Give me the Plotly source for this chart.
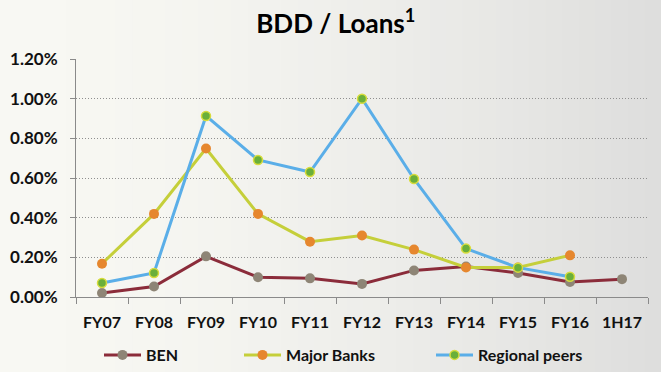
import plotly.graph_objects as go

categories = ["FY07", "FY08", "FY09", "FY10", "FY11", "FY12", "FY13", "FY14", "FY15", "FY16", "1H17"]
ben = [0.020, 0.053, 0.205, 0.100, 0.094, 0.066, 0.134, 0.154, 0.121, 0.076, 0.090]
major_banks = [0.168, 0.419, 0.749, 0.419, 0.279, 0.310, 0.239, 0.149, 0.149, 0.210, None]
regional_peers = [0.071, 0.121, 0.913, 0.691, 0.630, 1.000, 0.595, 0.244, 0.148, 0.102, None]
y_ticks = [0.0, 0.2, 0.4, 0.6, 0.8, 1.0, 1.2]
y_tick_labels = ["0.00%", "0.20%", "0.40%", "0.60%", "0.80%", "1.00%", "1.20%"]

FONT = "Lato, 'Open Sans', sans-serif"
W, H = 661, 372
ML, MR, MT, MB = 76, 13, 59, 75
PW, PH = W - ML - MR, H - MT - MB

fig = go.Figure()
fig.add_trace(go.Scatter(
    x=categories, y=ben, name="BEN", mode="lines+markers", legend="legend",
    line=dict(color="#8B2C3A", width=3),
    marker=dict(color="#8E8576", size=10, line=dict(width=0)),
))
fig.add_trace(go.Scatter(
    x=categories, y=major_banks, name="Major Banks", mode="lines+markers", legend="legend2",
    line=dict(color="#C5CF3A", width=3),
    marker=dict(color="#E6872E", size=10, line=dict(width=0)),
))
fig.add_trace(go.Scatter(
    x=categories, y=regional_peers, name="Regional peers", mode="lines+markers", legend="legend3",
    line=dict(color="#5AAEE8", width=3),
    marker=dict(color="#6AAF3A", size=9, line=dict(color="#D8DC3C", width=1.5)),
))

# background gradient (cream on the left to light grey on the right)
shapes = []
n = 40
c0 = (248, 248, 243)
c1 = (222, 222, 221)
x_left = -ML / PW
x_right = 1 + MR / PW
for i in range(n):
    t = i / (n - 1)
    t2 = t ** 1.6
    col = tuple(round(c0[k] + (c1[k] - c0[k]) * t2) for k in range(3))
    xa = x_left + (x_right - x_left) * i / n
    xb = x_left + (x_right - x_left) * (i + 1) / n + 0.002
    shapes.append(dict(type="rect", xref="paper", yref="paper", x0=xa, x1=xb,
                       y0=-MB / PH - 0.01, y1=1 + MT / PH + 0.01, layer="below",
                       line=dict(width=0), fillcolor="rgb(%d,%d,%d)" % col))

legend_y = -(355 - (H - MB)) / PH
legend_common = dict(orientation="h", yanchor="middle", y=legend_y,
                     xanchor="left", itemwidth=37, bgcolor="rgba(0,0,0,0)",
                     font=dict(family=FONT, size=16, color="#111111", weight="bold"))

def lx(px):
    return (px - ML) / PW

fig.update_layout(
    width=W, height=H,
    margin=dict(l=ML, r=MR, t=MT, b=MB, autoexpand=False),
    paper_bgcolor="#F2F2ED",
    plot_bgcolor="rgba(0,0,0,0)",
    shapes=shapes,
    font=dict(family=FONT, size=16, color="#111111", weight="bold"),
    title=dict(text="BDD / Loans<sup>1</sup>", x=0.508, xanchor="center", y=0.935, yanchor="middle",
               font=dict(family=FONT, size=26, color="#000000", weight="bold")),
    showlegend=True,
    legend={**legend_common, "x": lx(99)},
    legend2={**legend_common, "x": lx(239)},
    legend3={**legend_common, "x": lx(431)},
)
fig.update_xaxes(
    type="category", range=[-0.5, 10.5], tickson="boundaries",
    ticks="outside", ticklen=6, tickcolor="#8A8A8A",
    showline=True, linecolor="#8A8A8A", linewidth=1,
    showgrid=False, ticklabelstandoff=11,
    tickfont=dict(family=FONT, size=16, color="#111111", weight="bold"),
)
fig.update_yaxes(
    range=[0, 1.2], tickvals=y_ticks, ticktext=y_tick_labels,
    ticks="outside", ticklen=5, tickcolor="#8A8A8A",
    showline=True, linecolor="#8A8A8A", linewidth=1,
    showgrid=True, gridcolor="#8F8F8F", griddash="1px,2px", gridwidth=1,
    zeroline=False, ticklabelstandoff=9,
    tickfont=dict(family=FONT, size=17, color="#111111", weight="bold"),
)
fig.write_html("out.html", config={"displayModeBar": False},
               post_script="document.body.style.margin='0';document.body.style.overflow='hidden';")
